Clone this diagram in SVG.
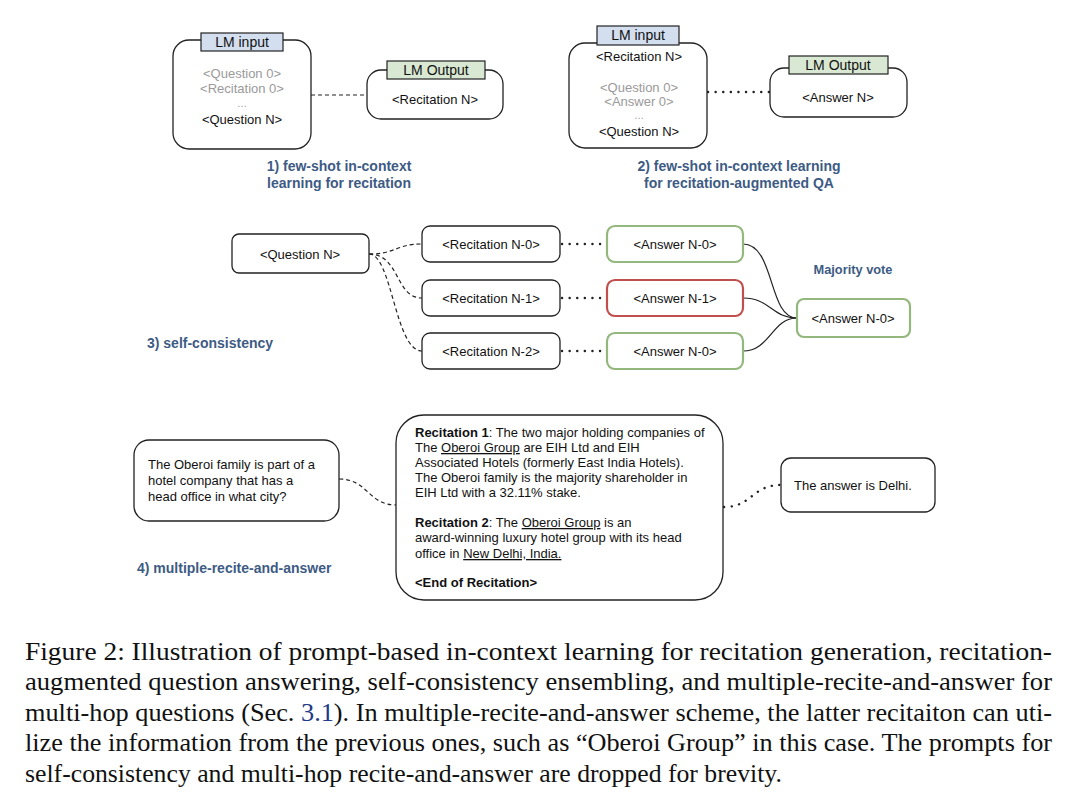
<svg xmlns="http://www.w3.org/2000/svg" width="1080" height="801" viewBox="0 0 1080 801">
<style>
.box{fill:#fff;stroke:#222;stroke-width:1.3}
.gbox{fill:#fff;stroke:#93b77c;stroke-width:2.2}
.rbox{fill:#fff;stroke:#c0504d;stroke-width:2.2}
.lin{fill:#d3deee;stroke:#222;stroke-width:1.2}
.lout{fill:#d9e8d2;stroke:#222;stroke-width:1.2}
.t{font-family:"Liberation Sans",Arial,sans-serif;font-size:13px;fill:#111}
.tc{text-anchor:middle}
.g{fill:#9a9a9a}
.h{font-family:"Liberation Sans",Arial,sans-serif;font-size:14px;fill:#111;text-anchor:middle}
.cap{font-family:"Liberation Sans",Arial,sans-serif;font-size:14px;font-weight:bold;fill:#3d5b84}
.dash{fill:none;stroke:#222;stroke-width:1.2;stroke-dasharray:4 3}
.dot{fill:none;stroke:#222;stroke-width:2.4;stroke-linecap:round;stroke-dasharray:0.1 7.5}
.sol{fill:none;stroke:#222;stroke-width:1.2}
.fig{font-family:"Liberation Serif","Times New Roman",serif;font-size:26px;fill:#111}
.b{font-weight:bold}
.u{text-decoration:underline}
</style>

<g id="connectors">
  <path class="dash" d="M311,95 L367,95"/>
  <path class="dot" d="M708,92 L770,92"/>
  <path class="dash" d="M369,254 C396,254 396,244 422,244"/>
  <path class="dash" d="M369,254 C400,254 395,298 422,298"/>
  <path class="dash" d="M369,254 C392,254 395,351 422,351"/>
  <path class="dot" d="M562,244 L607,244"/>
  <path class="dot" d="M562,298 L607,298"/>
  <path class="dot" d="M562,351 L607,351"/>
  <path class="sol" d="M743,244 C775,244 768,318 797,318"/>
  <path class="sol" d="M743,298 C770,298 772,318 797,318"/>
  <path class="sol" d="M743,351 C770,351 772,318 797,318"/>
  <path class="dash" d="M339,479 C368,479 368,505 396,505"/>
  <path class="dot" d="M724,507 C752,507 752,485 781,485"/>
</g>

<g id="s1-input">
  <rect class="box" x="173" y="40" width="138" height="109" rx="16"/>
  <rect class="lin" x="201" y="33" width="82" height="18"/>
  <text class="h" x="242" y="47">LM input</text>
  <text class="t tc g" x="242" y="78">&lt;Question 0&gt;</text>
  <text class="t tc g" x="242" y="93">&lt;Recitation 0&gt;</text>
  <text class="t tc g" x="242" y="107" style="font-size:10px">…</text>
  <text class="t tc" x="242" y="124">&lt;Question N&gt;</text>
</g>
<g id="s1-output">
  <rect class="box" x="367" y="70" width="136" height="49" rx="14"/>
  <rect class="lout" x="387" y="61" width="98" height="18"/>
  <text class="h" x="436" y="75">LM Output</text>
  <text class="t tc" x="435" y="104">&lt;Recitation N&gt;</text>
</g>
<g id="s1-caption">
  <text class="cap tc" x="339" y="171">1) few-shot in-context</text>
  <text class="cap tc" x="339" y="188">learning for recitation</text>
</g>

<g id="s2-input">
  <rect class="box" x="569" y="43" width="138" height="105" rx="16"/>
  <rect class="lin" x="597" y="26" width="82" height="19"/>
  <text class="h" x="638" y="40">LM input</text>
  <text class="t tc" x="639" y="61">&lt;Recitation N&gt;</text>
  <text class="t tc g" x="639" y="92">&lt;Question 0&gt;</text>
  <text class="t tc g" x="639" y="106">&lt;Answer 0&gt;</text>
  <text class="t tc g" x="639" y="119" style="font-size:10px">…</text>
  <text class="t tc" x="639" y="136">&lt;Question N&gt;</text>
</g>
<g id="s2-output">
  <rect class="box" x="770" y="68" width="137" height="49" rx="14"/>
  <rect class="lout" x="789" y="56" width="99" height="18"/>
  <text class="h" x="838" y="70">LM Output</text>
  <text class="t tc" x="838" y="102">&lt;Answer N&gt;</text>
</g>
<g id="s2-caption">
  <text class="cap tc" x="739" y="171">2) few-shot in-context learning</text>
  <text class="cap tc" x="739" y="188">for recitation-augmented QA</text>
</g>

<g id="s3-question">
  <rect class="box" x="232" y="234" width="137" height="39" rx="7"/>
  <text class="t tc" x="300" y="259">&lt;Question N&gt;</text>
</g>
<g id="s3-rec0">
  <rect class="box" x="422" y="226" width="138" height="36" rx="8"/>
  <text class="t tc" x="491" y="249">&lt;Recitation N-0&gt;</text>
</g>
<g id="s3-rec1">
  <rect class="box" x="422" y="280" width="138" height="36" rx="8"/>
  <text class="t tc" x="491" y="303">&lt;Recitation N-1&gt;</text>
</g>
<g id="s3-rec2">
  <rect class="box" x="422" y="333" width="138" height="36" rx="8"/>
  <text class="t tc" x="491" y="356">&lt;Recitation N-2&gt;</text>
</g>
<g id="s3-ans0">
  <rect class="gbox" x="607" y="226" width="136" height="36" rx="8"/>
  <text class="t tc" x="675" y="249">&lt;Answer N-0&gt;</text>
</g>
<g id="s3-ans1">
  <rect class="rbox" x="607" y="280" width="136" height="36" rx="8"/>
  <text class="t tc" x="675" y="303">&lt;Answer N-1&gt;</text>
</g>
<g id="s3-ans2">
  <rect class="gbox" x="607" y="333" width="136" height="36" rx="8"/>
  <text class="t tc" x="675" y="356">&lt;Answer N-0&gt;</text>
</g>
<g id="s3-majority">
  <rect class="gbox" x="797" y="299" width="113" height="38" rx="7"/>
  <text class="t tc" x="853" y="323">&lt;Answer N-0&gt;</text>
  <text class="cap tc" x="853" y="274" style="font-size:12.8px">Majority vote</text>
</g>
<text class="cap" x="147" y="348">3) self-consistency</text>

<g id="s4-question">
  <rect class="box" x="134" y="440" width="205" height="81" rx="15"/>
  <text class="t" x="148" y="469">The Oberoi family is part of a</text>
  <text class="t" x="148" y="485">hotel company that has a</text>
  <text class="t" x="148" y="501">head office in what city?</text>
</g>
<g id="s4-recitation">
  <rect class="box" x="396" y="415" width="327" height="185" rx="28"/>
  <text class="t" x="415" y="437"><tspan class="b">Recitation 1</tspan>: The two major holding companies of</text>
  <text class="t" x="415" y="452">The <tspan class="u">Oberoi Group</tspan> are EIH Ltd and EIH</text>
  <text class="t" x="415" y="467">Associated Hotels (formerly East India Hotels).</text>
  <text class="t" x="415" y="482">The Oberoi family is the majority shareholder in</text>
  <text class="t" x="415" y="497">EIH Ltd with a 32.11% stake.</text>
  <text class="t" x="415" y="527"><tspan class="b">Recitation 2</tspan>: The <tspan class="u">Oberoi Group</tspan> is an</text>
  <text class="t" x="415" y="542">award-winning luxury hotel group with its head</text>
  <text class="t" x="415" y="558">office in <tspan class="u">New Delhi, India.</tspan></text>
  <text class="t b" x="415" y="587">&lt;End of Recitation&gt;</text>
</g>
<g id="s4-answer">
  <rect class="box" x="781" y="458" width="154" height="54" rx="10"/>
  <text class="t" x="794" y="490">The answer is Delhi.</text>
</g>
<text class="cap" x="137" y="573">4) multiple-recite-and-answer</text>

<g id="figure-caption">
  <text class="fig" x="25" y="660" textLength="1027" lengthAdjust="spacingAndGlyphs">Figure 2: Illustration of prompt-based in-context learning for recitation generation, recitation-</text>
  <text class="fig" x="25" y="690" textLength="1027" lengthAdjust="spacingAndGlyphs">augmented question answering, self-consistency ensembling, and multiple-recite-and-answer for</text>
  <text class="fig" x="25" y="721" textLength="1027" lengthAdjust="spacingAndGlyphs">multi-hop questions (Sec. <tspan fill="#1f3a8a">3.1</tspan>). In multiple-recite-and-answer scheme, the latter recitaiton can uti-</text>
  <text class="fig" x="25" y="751" textLength="1027" lengthAdjust="spacingAndGlyphs">lize the information from the previous ones, such as “Oberoi Group” in this case. The prompts for</text>
  <text class="fig" x="25" y="782" textLength="757" lengthAdjust="spacingAndGlyphs">self-consistency and multi-hop recite-and-answer are dropped for brevity.</text>
</g>
</svg>
